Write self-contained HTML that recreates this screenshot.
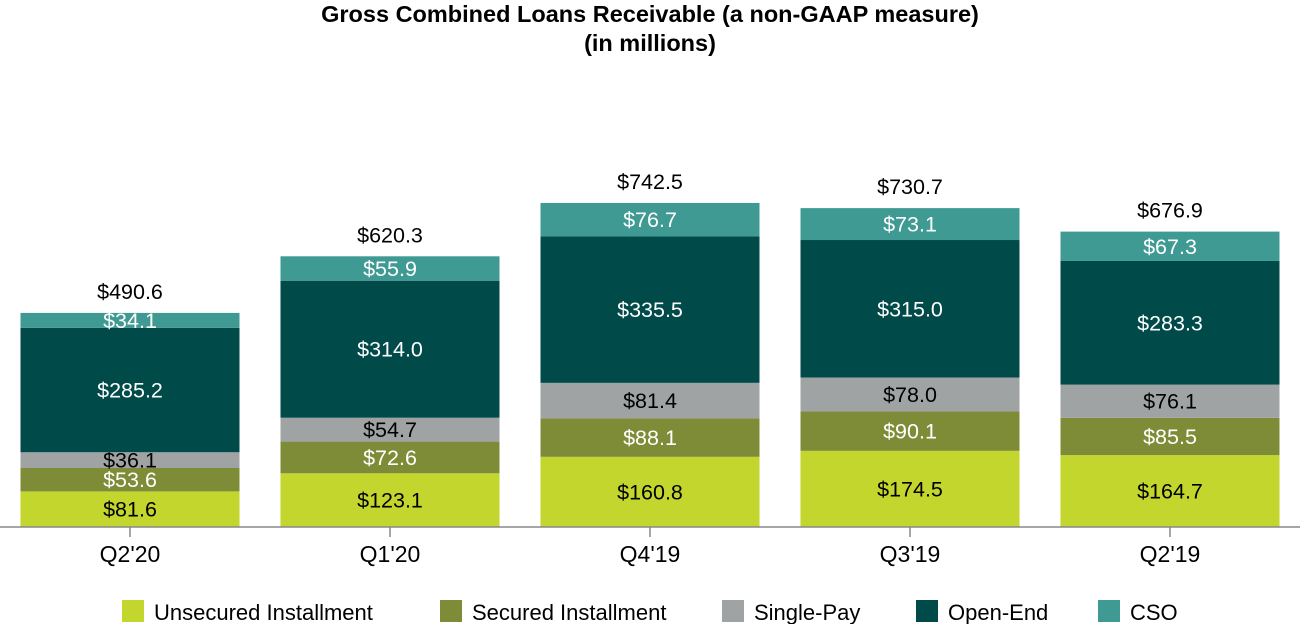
<!DOCTYPE html>
<html><head><meta charset="utf-8"><style>
body{margin:0;background:#fff;font-family:"Liberation Sans",Arial,sans-serif}
svg text{font-family:"Liberation Sans",Arial,sans-serif}
</style></head><body>
<svg width="1300" height="624" id="c">
<text x="650" y="22" text-anchor="middle" font-size="23.5" font-weight="bold">Gross Combined Loans Receivable (a non-GAAP measure)</text>
<text x="650" y="51" text-anchor="middle" font-size="23.5" font-weight="bold">(in millions)</text>
</svg>
<script>
const categories=["Q2'20","Q1'20","Q4'19","Q3'19","Q2'19"];
const unsecured=[81.6,123.1,160.8,174.5,164.7];
const secured=[53.6,72.6,88.1,90.1,85.5];
const singlePay=[36.1,54.7,81.4,78.0,76.1];
const openEnd=[285.2,314.0,335.5,315.0,283.3];
const cso=[34.1,55.9,76.7,73.1,67.3];
const totals=[490.6,620.3,742.5,730.7,676.9];
const seriesNames=["Unsecured Installment","Secured Installment","Single-Pay","Open-End","CSO"];
const series=[unsecured,secured,singlePay,openEnd,cso];
const colors=["#c2d62e","#7f8c37","#a0a3a4","#004a4a","#3f9a93"];
const txt=["#000","#fff","#000","#fff","#fff"];
const NS="http://www.w3.org/2000/svg",svg=document.getElementById('c');
const base=527,k=0.4364;
const y=v=>base-v*k;
const xc=i=>130+i*260;
function el(t,a,p){const e=document.createElementNS(NS,t);for(const n in a)e.setAttribute(n,a[n]);(p||svg).appendChild(e);return e;}
categories.forEach((c,i)=>{
  let cum=0;
  series.forEach((s,j)=>{
    const v=s[i];
    const r=el('rect',{x:xc(i)-109.5,y:y(cum+v),width:219,height:v*k,fill:colors[j]});
    
    
    const t=el('text',{x:xc(i),y:y(cum+v/2)+7.5,'text-anchor':'middle','font-size':21.5,fill:txt[j]});
    t.textContent='$'+v.toFixed(1);
    
    
    cum+=v;
  });
  const t=el('text',{x:xc(i),y:y(totals[i])-14,'text-anchor':'middle','font-size':21.5});
  t.textContent='$'+totals[i].toFixed(1);
  
  
  const tk=el('line',{x1:xc(i),x2:xc(i),y1:base,y2:base+10,stroke:'#888','stroke-width':1.5});
  
  
  const lb=el('text',{x:xc(i),y:base+35,'text-anchor':'middle','font-size':23});
  lb.textContent=c;
  
  
});
const ax=el('line',{x1:0,x2:1300,y1:base,y2:base,stroke:'#888','stroke-width':1.5});


const lx=[122,440,722,916,1098];
seriesNames.forEach((n,j)=>{
  const g=el('g',{});
  
  
  el('rect',{x:lx[j],y:600,width:22,height:22,fill:colors[j]},g);
  const t=el('text',{x:lx[j]+32,y:620,'font-size':22},g);
  t.textContent=n;
});
</script>
</body></html>
